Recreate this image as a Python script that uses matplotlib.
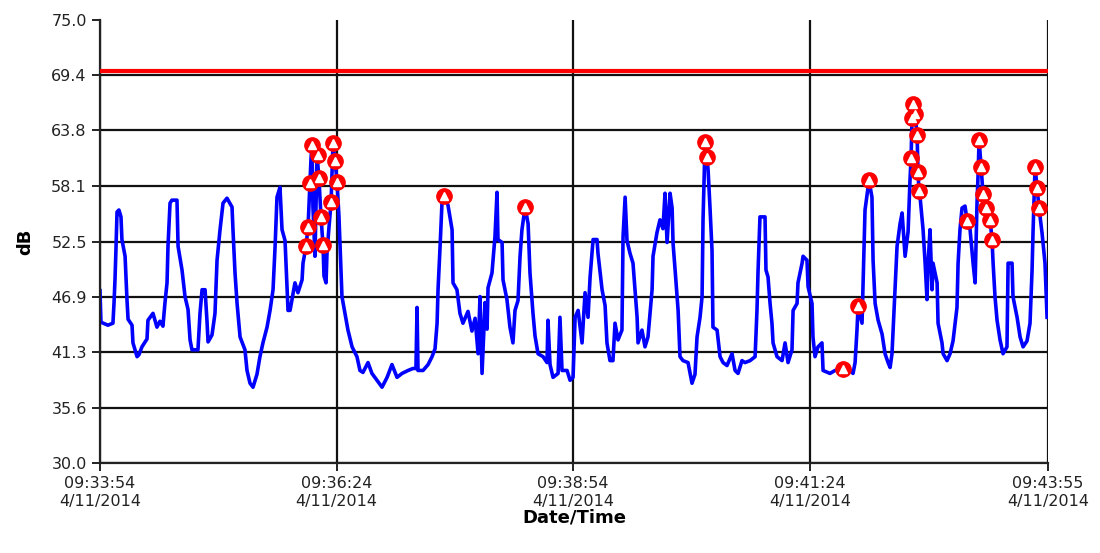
import numpy as np
import matplotlib
matplotlib.use('Agg')
import matplotlib.pyplot as plt

# seconds after 09:33:54 and level in dB
secs = [0, 0.6, 5, 8.2, 8.9, 9.5, 10.1, 10.8, 12.0, 13.3, 13.9, 15.9, 17.1, 17.8, 20.3, 20.9,
        23.5, 24.7, 26.6, 29.8, 30.4, 33.6, 36.1, 38.0, 39.9, 41.2, 42.5, 43.1, 44.4, 45.6,
        48.8, 49.5, 52.0, 53.9, 55.8, 57.1, 58.3, 62.1, 63.4, 64.7, 66.6, 67.8, 68.5, 71.0,
        72.9, 74.2, 76.1, 78.0, 80.5, 83.7, 84.3, 85.6, 86.9, 88.8, 91.9, 93.2, 95.1, 97.0,
        99.5, 101.4, 103.3, 105.9, 107.8, 109.7, 111.0, 112.2, 114.1, 115.4, 117.3, 119.2,
        120.5, 123.6, 125.5, 128.1, 128.7, 130.6, 131.9, 133.1, 133.8, 134.4, 135.0, 136.3,
        137.6, 138.8, 140.1, 141.4, 142.0, 143.3, 143.9, 145.2, 146.5, 147.7, 149.0, 150.3,
        151.5, 152.2, 153.4, 155.3, 157.2, 159.8, 162.9, 164.8, 166.7, 169.9, 172.4, 175.6,
        178.8, 182.0, 185.1, 188.3, 191.5, 195.3, 198.4, 200.3, 201.0, 201.6, 204.8, 208.0,
        210.5, 212.4, 213.7, 214.3, 215.6, 216.8, 218.1, 220.6, 223.2, 223.8, 226.3, 228.2,
        230.1, 233.3, 235.8, 237.8, 239.7, 240.9, 242.2, 244.1, 245.4, 246.0, 248.5, 250.4,
        251.7, 252.3, 254.9, 255.5, 258.0, 259.9, 261.8, 263.1, 265.0, 266.3, 267.5, 269.5,
        271.4, 272.6, 274.5, 275.8, 277.7, 280.9, 283.4, 284.0, 285.3, 287.2, 290.4, 291.6,
        292.9, 296.1, 298.0, 299.9, 301.2, 303.1, 305.6, 307.5, 309.4, 310.7, 312.6, 315.1,
        315.7, 318.3, 320.2, 321.4, 323.3, 325.2, 326.5, 328.4, 330.9, 331.6, 332.9, 334.1,
        336.0, 337.9, 339.2, 340.5, 341.1, 343.6, 345.5, 347.4, 350.0, 350.6, 353.1, 355.0,
        356.9, 358.2, 359.5, 361.4, 362.7, 363.3, 364.6, 366.5, 367.7, 369.6, 372.8, 375.3,
        377.2, 378.5, 380.4, 381.7, 382.3, 383.6, 384.8, 385.5, 386.7, 388.0, 388.6, 391.2,
        393.1, 395.0, 397.5, 400.7, 402.6, 404.5, 407.0, 408.9, 412.1, 415.3, 416.5, 417.2,
        418.4, 421.6, 422.2, 423.5, 424.8, 426.0, 426.7, 429.2, 432.4, 434.3, 436.2, 438.7,
        439.4, 441.9, 442.5, 445.1, 445.7, 448.2, 448.9, 451.4, 452.0, 453.3, 455.2, 457.7,
        458.4, 462.8, 466.0, 471.1, 475.5, 477.4, 478.7, 479.9, 480.6, 483.1, 485.0, 487.5,
        489.4, 490.1, 491.4, 493.3, 495.8, 497.7, 499.6, 500.9, 502.1, 502.8, 504.0, 505.3,
        507.2, 508.5, 509.1, 510.4, 512.3, 513.5, 514.2, 514.8, 515.4, 516.7, 518.0, 518.6,
        519.2, 519.9, 521.8, 523.1, 524.3, 525.0, 526.2, 527.5, 528.1, 530.7, 531.3, 533.8,
        534.5, 537.0, 538.9, 540.8, 543.3, 544.0, 545.2, 546.5, 548.4, 549.7, 551.6, 553.5,
        554.8, 556.0, 556.7, 557.3, 558.6, 559.8, 561.7, 564.3, 565.5, 566.2, 567.4, 568.7,
        570.6, 572.5, 575.0, 575.7, 578.2, 578.8, 581.4, 583.3, 585.2, 587.7, 589.6, 590.9,
        591.5, 592.8, 594.1, 595.3, 597.2, 599.1, 600.4]
level = [47.5, 44.3, 44.0, 44.2, 46.3, 48.6, 51.6, 55.5, 55.7, 55.0, 52.7, 51.0, 46.6, 44.6, 44.0, 42.2,
         40.8, 41.0, 41.8, 42.6, 44.5, 45.2, 43.8, 44.4, 43.9, 46.3, 48.3, 52.0, 56.4, 56.7,
         56.7, 52.0, 49.6, 46.9, 45.6, 42.5, 41.5, 41.5, 45.2, 47.6, 47.6, 44.5, 42.3, 43.0,
         45.2, 50.6, 53.7, 56.4, 56.9, 56.0, 53.7, 49.3, 46.2, 42.8, 41.5, 39.4, 38.1, 37.7,
         39.0, 40.8, 42.2, 43.8, 45.5, 47.6, 52.0, 57.0, 58.0, 53.7, 52.6, 45.5,
         45.5, 48.3, 47.3, 48.6, 50.3, 52.0, 54.0, 58.4, 61.0, 62.3, 56.0, 51.0,
         61.3, 58.9, 55.0, 52.1, 49.0, 48.3, 51.3, 54.0, 56.5, 62.5, 60.7, 58.5,
         55.0, 52.0, 46.9, 45.2, 43.5, 41.8, 40.8, 39.4, 39.2, 40.2, 39.1, 38.4,
         37.7, 38.7, 40.0, 38.7, 39.1, 39.4, 39.6, 39.6, 45.8, 39.4, 39.4, 40.0,
         40.8, 41.6, 44.2, 47.6, 52.0, 56.4, 57.1, 56.2, 53.7, 48.3, 47.6, 45.2,
         44.2, 45.4, 43.4, 44.7, 41.1, 46.9, 39.1, 46.3, 43.6, 47.8, 49.3, 53.0,
         57.5, 52.7, 52.4, 48.6, 46.6, 43.8, 42.2, 45.5, 46.5, 51.0, 53.7, 56.0,
         54.3, 49.3, 45.2, 42.9, 41.1, 40.8, 40.2, 44.5, 40.0, 38.7, 39.1, 44.8,
         39.4, 39.4, 38.4, 38.7, 44.8, 45.5, 42.2, 47.3, 44.8, 48.9, 52.7, 52.7,
         51.3, 47.6, 46.0, 42.2, 40.4, 40.4, 44.2, 42.5, 43.5, 53.0, 57.0, 52.6,
         51.3, 50.3, 47.6, 44.8, 42.2, 43.5, 41.8, 42.8, 47.6, 51.0, 53.4, 54.7,
         53.8, 57.4, 52.4, 57.4, 55.9, 52.3, 49.6, 45.5, 40.8, 40.4, 40.2, 38.1,
         39.0, 42.8, 44.8, 46.9, 54.7, 62.6, 61.1, 59.8, 56.0, 51.6, 43.8, 43.5,
         40.8, 40.2, 39.9, 41.1, 39.4, 39.1, 40.4, 40.2, 40.4, 40.8, 45.5, 49.6,
         55.0, 55.0, 49.6, 48.9, 46.2, 44.2, 42.2, 40.8, 40.4, 42.2, 40.2, 41.5,
         45.5, 46.2, 48.3, 50.3, 51.0, 50.6, 47.9, 46.2, 42.8, 40.8, 41.8, 42.2,
         39.4, 39.1, 39.4, 39.5, 39.4, 39.1, 40.2, 43.5, 45.9, 44.2, 55.7, 58.7,
         57.0, 50.6, 46.2, 44.5, 43.1, 41.1, 40.2, 39.7, 41.1, 43.5, 47.6, 52.0,
         54.3, 55.4, 54.0, 51.0, 53.5, 58.7, 61.0, 65.0, 66.5, 65.5, 63.3, 59.6,
         57.6, 57.0, 53.7, 50.3, 46.6, 50.3, 53.7, 47.6, 50.3, 48.3, 44.2, 42.2,
         41.1, 40.4, 41.1, 42.4, 45.8, 50.3, 53.7, 55.9, 56.1, 54.6, 53.7, 50.3,
         48.3, 56.4, 59.4, 62.8, 60.1, 57.3, 55.9, 54.7, 52.7, 50.3, 46.9, 44.5,
         42.5, 41.1, 41.8, 50.3, 50.3, 46.9, 44.8, 42.8, 41.8, 42.4, 44.2, 49.6,
         53.4, 60.1, 57.9, 55.9, 53.4, 50.3, 44.8]

# flagged events
event_secs = [130.6, 131.9, 133.1, 134.4, 138.2, 138.8, 140.1, 141.4, 146.5, 147.7, 149.0, 150.3,
              218.1, 269.5, 383.6, 384.8, 471.1, 480.6, 487.5,
              514.2, 514.8, 515.4, 516.7, 518.0, 518.6, 519.2,
              549.7, 557.3, 558.6, 559.8, 561.7, 564.3, 565.5,
              592.8, 594.1, 595.3]
event_level = [52.0, 54.0, 58.4, 62.3, 61.3, 58.9, 55.0, 52.1, 56.5, 62.5, 60.7, 58.5,
               57.1, 56.0, 62.6, 61.1, 39.5, 45.9, 58.7,
               61.0, 65.0, 66.5, 65.5, 63.3, 59.6, 57.6,
               54.6, 62.8, 60.1, 57.3, 55.9, 54.7, 52.7,
               60.1, 57.9, 55.9]

limit = 69.8
xtick_secs = [0, 150, 300, 450, 601]
xtick_labels = ['09:33:54\n4/11/2014', '09:36:24\n4/11/2014', '09:38:54\n4/11/2014',
                '09:41:24\n4/11/2014', '09:43:55\n4/11/2014']
ytick_vals = [30.0, 35.6, 41.3, 46.9, 52.5, 58.1, 63.8, 69.4, 75.0]

fig = plt.figure(figsize=(11, 5.53), dpi=100)
ax = fig.add_axes([100 / 1100, 90 / 553, 948 / 1100, 443 / 553])

for y in ytick_vals[:-1]:
    ax.axhline(y, color='#111111', lw=1.6, zorder=1)
for x in xtick_secs:
    ax.axvline(x, color='#111111', lw=1.6, zorder=1)

ax.plot(secs, level, color='#0000ff', lw=2.6, zorder=2)
ax.axhline(limit, color='#ff0000', lw=3, zorder=3)
ax.plot(event_secs, event_level, 'o', ms=11, color='#ff0000', mec='#ff0000', zorder=4)
ax.plot(event_secs, event_level, '^', ms=5.5, color='white', mec='white', zorder=5)

ax.set_xlim(0, 601)
ax.set_ylim(30, 75)
ax.set_xticks(xtick_secs)
ax.set_xticklabels(xtick_labels, fontsize=11.5, color='#222222')
ax.set_yticks(ytick_vals)
ax.set_yticklabels([f'{v:.1f}' for v in ytick_vals], fontsize=11.5, color='#222222')
ax.tick_params(direction='out', length=6, width=1.4, color='#222222')
for s in ['top', 'right']:
    ax.spines[s].set_visible(False)
for s in ['left', 'bottom']:
    ax.spines[s].set_linewidth(1.6)
    ax.spines[s].set_color('#222222')
ax.set_xlabel('Date/Time', fontsize=13, fontweight='bold', labelpad=0)
ax.set_ylabel('dB', fontsize=13, fontweight='bold', labelpad=12)

plt.savefig('out.png', dpi=100)
